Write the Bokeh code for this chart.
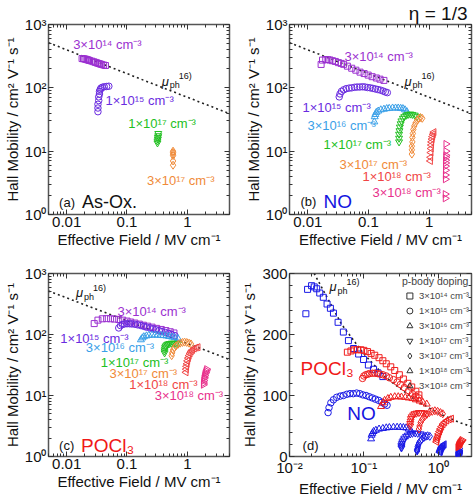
from math import pi
from bokeh.plotting import figure
from bokeh.layouts import column, row
from bokeh.models import (FixedTicker, Label, LogAxis, LinearAxis, Legend, LegendItem,
                          Range1d, CustomJSTickFormatter, Title)
from bokeh.embed import file_html
from bokeh.resources import INLINE

FONT = "Liberation Sans"

# ---------------- data ----------------
doping_labels = ["3×10¹⁴ cm⁻³", "1×10¹⁵ cm⁻³", "3×10¹⁶ cm⁻³", "1×10¹⁷ cm⁻³",
                 "3×10¹⁷ cm⁻³", "1×10¹⁸ cm⁻³", "3×10¹⁸ cm⁻³"]
doping_colors = ["#9B30D0", "#6A2BE0", "#3AA0E8", "#22C022", "#F08A38", "#F04545", "#E8308C"]

# phonon-limited mobility reference curve
mu_ph_E = [0.005, 0.01, 0.02, 0.05, 0.1, 0.2, 0.5, 1, 2, 5]
mu_ph_mu = [516, 398, 307, 217, 168, 129, 92, 71, 55, 39]

# (a) As-Ox.
asox_3e14_E = [0.018, 0.019, 0.020, 0.021, 0.022, 0.023, 0.024, 0.026, 0.028, 0.030, 0.032, 0.034, 0.036, 0.038, 0.041, 0.044]
asox_3e14_mu = [290, 288, 285, 282, 278, 274, 270, 264, 258, 252, 247, 242, 238, 234, 229, 225]
asox_1e15_E = [0.033, 0.033, 0.033, 0.034, 0.034, 0.035, 0.035, 0.036, 0.037, 0.039, 0.042, 0.046, 0.050]
asox_1e15_mu = [42, 48, 55, 63, 72, 80, 88, 94, 99, 102, 104, 105, 106]
asox_1e17_E = [0.32, 0.32, 0.325, 0.325, 0.33, 0.33]
asox_1e17_mu = [13.5, 14.5, 15.5, 16.5, 17.5, 19]
asox_3e17_E = [0.58, 0.58, 0.58, 0.58, 0.58, 0.58]
asox_3e17_mu = [6, 7, 8.5, 9, 9.5, 10]

# (b) NO
no_3e14_E = [0.0166, 0.0175, 0.0198, 0.0215, 0.0232, 0.0255, 0.0285, 0.032, 0.0355, 0.039, 0.045, 0.053, 0.062, 0.0727, 0.085, 0.099, 0.115, 0.135, 0.155, 0.18]
no_3e14_mu = [234, 274, 280, 278, 275, 268, 261, 250, 243, 235, 220, 204, 190, 177, 168, 159, 150, 143, 137, 131]
no_1e15_E = [0.033, 0.034, 0.036, 0.039, 0.043, 0.048, 0.053, 0.059, 0.065, 0.072, 0.080, 0.088, 0.097, 0.107, 0.118, 0.130, 0.143, 0.158, 0.174, 0.19, 0.205]
no_1e15_mu = [72, 80, 88, 93, 97, 99, 100, 102, 103, 103, 104, 103, 101, 100, 98, 96, 94, 92, 89, 86, 84]
no_3e16_E = [0.125, 0.127, 0.130, 0.135, 0.145, 0.16, 0.18, 0.2, 0.22, 0.25, 0.28, 0.31, 0.34, 0.37, 0.40, 0.43]
no_3e16_mu = [29, 35, 38, 41, 43, 45, 46, 47, 47.5, 48, 48, 48, 47.5, 47, 45, 42]
no_1e17_E = [0.32, 0.32, 0.32, 0.325, 0.33, 0.34, 0.35, 0.37, 0.39, 0.42, 0.45, 0.49, 0.53, 0.58, 0.63]
no_1e17_mu = [14, 16, 18.5, 21, 24, 27, 30, 33, 35, 37, 38, 38.5, 38, 37, 35]
no_3e17_E = [0.52, 0.52, 0.52, 0.53, 0.53, 0.54, 0.55, 0.57, 0.60, 0.64, 0.68, 0.72, 0.77]
no_3e17_mu = [9, 10.5, 12, 14, 16.5, 19, 22, 25, 28, 31, 33, 34, 33]
no_1e18_E = [1.05, 1.06, 1.07, 1.08, 1.09, 1.1, 1.12, 1.14, 1.17, 1.2]
no_1e18_mu = [7, 8, 9.5, 11, 12.5, 14, 15.5, 17, 18.5, 20]
no_3e18_E = [1.85, 1.85, 1.86, 1.86, 1.87, 1.87, 1.88, 1.88, 1.89, 1.9, 1.9, 1.9]
no_3e18_mu = [1.8, 2.1, 3.6, 4.2, 5, 5.8, 6.5, 7.2, 8, 8.6, 10, 13]

# (c) POCl3
pocl_3e14_E = [0.0286, 0.033, 0.039, 0.046, 0.0535, 0.062, 0.073, 0.085, 0.1, 0.115, 0.135, 0.16, 0.187, 0.22, 0.26, 0.31, 0.37, 0.44, 0.52, 0.6]
pocl_3e14_mu = [151, 172, 181, 182, 181, 179, 176, 172, 166, 160, 154, 148, 142, 137, 132, 126, 121, 116, 111, 106]
pocl_1e15_E = [0.073, 0.078, 0.084, 0.091, 0.1, 0.11, 0.12, 0.135, 0.15, 0.17, 0.19, 0.21, 0.24, 0.27, 0.3, 0.34, 0.38, 0.43, 0.49, 0.55, 0.62]
pocl_1e15_mu = [128, 140, 146, 149, 150, 150, 149, 147, 144, 140, 136, 132, 128, 124, 120, 116, 112, 108, 104, 100, 96]
pocl_3e16_E = [0.17, 0.18, 0.19, 0.21, 0.23, 0.26, 0.29, 0.32, 0.36, 0.4, 0.45, 0.5, 0.56, 0.62, 0.7]
pocl_3e16_mu = [82, 88, 92, 95, 97, 98, 98, 97.5, 97, 96, 95, 93, 91, 89, 86]
pocl_1e17_E = [0.42, 0.42, 0.425, 0.43, 0.44, 0.46, 0.48, 0.51, 0.55, 0.6, 0.65, 0.7]
pocl_1e17_mu = [50, 54, 58, 62, 65, 68, 70, 71, 72, 72, 71, 70]
pocl_3e17_E = [0.55, 0.56, 0.58, 0.61, 0.65, 0.7, 0.76, 0.83, 0.9, 0.98, 1.07, 1.15]
pocl_3e17_mu = [45, 50, 56, 61, 65, 69, 72, 74, 75, 74, 72, 70]
pocl_1e18_E = [0.95, 0.96, 0.97, 0.99, 1.01, 1.04, 1.07, 1.11, 1.16, 1.22, 1.3, 1.4, 1.5]
pocl_1e18_mu = [24, 27, 30, 33, 37, 41, 45, 49, 53, 56, 59, 61, 62]
pocl_3e18_E = [1.85, 1.86, 1.88, 1.9, 1.92, 1.95, 1.98, 2.02, 2.06, 2.1]
pocl_3e18_mu = [15, 16, 17.5, 19, 20, 21.5, 23, 24, 25.5, 27]

# (d) POCl3 low-doping series as drawn in the linear panel
d_pocl_3e14_E = [0.06, 0.067, 0.074, 0.082, 0.091, 0.1, 0.112, 0.125, 0.14, 0.16, 0.18, 0.2, 0.23, 0.26, 0.3, 0.34, 0.39, 0.44, 0.5, 0.55]
d_pocl_3e14_mu = [171, 173, 175, 175, 175, 174, 172, 169, 166, 162, 157, 152, 147, 141, 134, 127, 120, 114, 107, 101]
d_pocl_1e15_E = [0.096, 0.1, 0.106, 0.113, 0.12, 0.13, 0.14, 0.152, 0.165, 0.18, 0.2, 0.22, 0.25, 0.28, 0.31, 0.35, 0.4, 0.45, 0.5, 0.55]
d_pocl_1e15_mu = [128, 132, 134, 135, 136, 136.5, 136.5, 136, 135, 134, 132, 129, 126, 122, 118, 113, 108, 103, 99, 96]

asox = [(asox_3e14_E, asox_3e14_mu, 0), (asox_1e15_E, asox_1e15_mu, 1),
        (asox_1e17_E, asox_1e17_mu, 3), (asox_3e17_E, asox_3e17_mu, 4)]
no = [(no_3e14_E, no_3e14_mu, 0), (no_1e15_E, no_1e15_mu, 1), (no_3e16_E, no_3e16_mu, 2),
      (no_1e17_E, no_1e17_mu, 3), (no_3e17_E, no_3e17_mu, 4), (no_1e18_E, no_1e18_mu, 5),
      (no_3e18_E, no_3e18_mu, 6)]
pocl = [(pocl_3e14_E, pocl_3e14_mu, 0), (pocl_1e15_E, pocl_1e15_mu, 1), (pocl_3e16_E, pocl_3e16_mu, 2),
        (pocl_1e17_E, pocl_1e17_mu, 3), (pocl_3e17_E, pocl_3e17_mu, 4), (pocl_1e18_E, pocl_1e18_mu, 5),
        (pocl_3e18_E, pocl_3e18_mu, 6)]
pocl_d = [(d_pocl_3e14_E, d_pocl_3e14_mu, 0), (d_pocl_1e15_E, d_pocl_1e15_mu, 1)] + pocl[2:]

MARKERS = [("square", 0), ("circle", 0), ("triangle", 0), ("inverted_triangle", 0),
           ("diamond", 0), ("triangle", pi / 2), ("triangle", -pi / 2)]
SIZES = [6, 6.5, 7, 7, 8, 7, 7]

X_LABEL = "Effective Field / MV cm⁻¹"
Y_LABEL = "Hall Mobility / cm² V⁻¹ s⁻¹"


def minor_log(lo_e, hi_e, lo, hi):
    out = []
    for e in range(lo_e, hi_e + 1):
        for m in range(2, 10):
            v = m * 10.0 ** e
            if lo <= v <= hi:
                out.append(v)
    return out


def style_axis(ax, label=None, show=True):
    ax.axis_line_color = None
    ax.major_tick_in = 5
    ax.major_tick_out = 0
    ax.minor_tick_in = 3
    ax.minor_tick_out = 0
    ax.major_tick_line_color = "#333333"
    ax.minor_tick_line_color = "#333333"
    ax.major_label_text_font = FONT
    ax.major_label_text_color = "#111111"
    if show:
        ax.major_label_text_font_size = "15px"
        ax.major_label_standoff = 2
    else:
        ax.formatter = CustomJSTickFormatter(code="return ''")
        ax.major_label_standoff = 0
        ax.axis_label_standoff = 0
    if label:
        ax.axis_label = label
        ax.axis_label_text_font = FONT
        ax.axis_label_text_font_size = "15px"
        ax.axis_label_text_font_style = "normal"
        ax.axis_label_text_color = "#111111"
        ax.axis_label_standoff = 1


def make_fig(w, h, bl, br, bt, bb, linear_y=False, xr=(0.005, 5)):
    p = figure(width=w, height=h, x_axis_type="log",
               y_axis_type="linear" if linear_y else "log",
               x_range=xr, y_range=(0, 300) if linear_y else (1, 1000),
               output_backend="svg", toolbar_location=None,
               min_border_left=bl, min_border_right=br, min_border_top=bt, min_border_bottom=bb)
    p.grid.visible = False
    p.outline_line_color = "#555555"
    p.outline_line_width = 1.5
    p.background_fill_color = "white"
    p.border_fill_color = "white"
    xt = FixedTicker(ticks=[0.01, 0.1, 1], minor_ticks=minor_log(-3, 0, xr[0], xr[1]))
    if linear_y:
        yt = FixedTicker(ticks=[0, 100, 200, 300], minor_ticks=list(range(0, 301, 20)))
        xlab = {0.01: "10⁻²", 0.1: "10⁻¹", 1: "10⁰"}
        ylab = {}
    else:
        yt = FixedTicker(ticks=[1, 10, 100, 1000], minor_ticks=minor_log(0, 2, 1, 1000))
        xlab = {0.01: "0.01", 0.1: "0.1", 1: "1"}
        ylab = {1: "10⁰", 10: "10¹", 100: "10²", 1000: "10³"}
    p.xaxis.ticker = xt
    p.yaxis.ticker = yt
    p.xaxis.major_label_overrides = xlab
    if ylab:
        p.yaxis.major_label_overrides = ylab
    style_axis(p.xaxis[0], X_LABEL)
    style_axis(p.yaxis[0], Y_LABEL)
    top = LogAxis(ticker=xt)
    style_axis(top, show=False)
    p.add_layout(top, "above")
    right = LinearAxis(ticker=yt) if linear_y else LogAxis(ticker=yt)
    style_axis(right, show=False)
    p.add_layout(right, "right")
    # mu_ph reference curve
    p.line(mu_ph_E, mu_ph_mu, line_color="#222222", line_width=1.6, line_dash="2 3")
    return p


def plot_series(p, series, color=None):
    for E, mu, k in series:
        marker, ang = MARKERS[k]
        p.scatter(E, mu, marker=marker, angle=ang, size=SIZES[k],
                  line_color=color or doping_colors[k], fill_color=None, line_width=1)


def text(p, x, y, t, color="#111111", size="13px", style="normal", align="left",
         xo=0, yo=0, baseline="middle"):
    p.add_layout(Label(x=x, y=y, text=t, text_color=color, text_font=FONT,
                       text_font_size=size, text_font_style=style, text_align=align,
                       text_baseline=baseline, x_offset=xo, y_offset=yo))


def mu_ph_label(p, x, y):
    text(p, x, y, "μ", size="13px", style="italic")
    text(p, x, y, "ph", size="9px", xo=8, yo=-4)
    text(p, x, y, "16)", size="9px", xo=17, yo=5)


# ---------------- panel (a) ----------------
pa = make_fig(234, 250, 45, 5, 24, 36)
plot_series(pa, asox)
text(pa, 0.0128, 485, doping_labels[0], doping_colors[0])
text(pa, 0.044, 62, doping_labels[1], doping_colors[1])
text(pa, 0.105, 27, doping_labels[3], doping_colors[3])
text(pa, 0.214, 3.43, doping_labels[4], doping_colors[4])
mu_ph_label(pa, 0.376, 127)
text(pa, 0.0075, 1.55, "(a)", size="13px")
text(pa, 0.0179, 1.55, "As-Ox.", size="18px")

# ---------------- panel (b) ----------------
pb = make_fig(240, 250, 55, 3, 24, 36)
pb.add_layout(Title(text="η = 1/3", align="right", text_font=FONT, text_font_size="19px",
                    text_font_style="normal", text_color="#111111", standoff=1, offset=4), "above")
plot_series(pb, no)
b_lab = [(0.0403, 316), (0.00818, 48.7), (0.0099, 25.5), (0.0182, 12.9),
         (0.0333, 6.27), (0.0798, 3.93), (0.1164, 2.21)]
for k, (x, y) in enumerate(b_lab):
    text(pb, x, y, doping_labels[k], doping_colors[k])
mu_ph_label(pb, 0.393, 128)
text(pb, 0.0076, 1.6, "(b)", size="13px")
text(pb, 0.0182, 1.6, "NO", color="#1414E0", size="19px")

# ---------------- panel (c) ----------------
pc = make_fig(234, 249, 45, 5, 23, 36)
plot_series(pc, pocl)
c_lab = [(0.0694, 242), (0.00785, 87.6), (0.0208, 60.8), (0.0367, 35.2),
         (0.0513, 22.7), (0.109, 15.2), (0.289, 9.86)]
for k, (x, y) in enumerate(c_lab):
    text(pc, x, y, doping_labels[k], doping_colors[k])
mu_ph_label(pc, 0.0143, 483)
text(pc, 0.0075, 1.49, "(c)", size="13px")
text(pc, 0.0173, 1.49, "POCl₃", color="#F01818", size="19px")

# ---------------- panel (d) ----------------
pd_ = make_fig(240, 249, 55, 3, 23, 36, linear_y=True, xr=(0.01, 2.8))
plot_series(pd_, no, color="#1A1AE6")
plot_series(pd_, pocl_d, color="#F01E1E")
mu_ph_label(pd_, 0.0345, 278)
text(pd_, 0.0141, 144, "POCl₃", color="#F01818", size="19px")
text(pd_, 0.060, 71, "NO", color="#1414E0", size="19px")
text(pd_, 0.015, 18, "(d)", size="13px")

# legend keys: black copies of the NO series on an off-screen range (only their key is seen)
pd_.extra_y_ranges = {"hide": Range1d(1000, 2000)}
items = []
for E, mu, k in no:
    marker, ang = MARKERS[k]
    r = pd_.scatter(E, mu, marker=marker, angle=ang, size=6, y_range_name="hide",
                    line_color="#333333", fill_color=None, line_width=1)
    items.append(LegendItem(label=doping_labels[k], renderers=[r]))
leg = Legend(items=items, location="top_right", title="p-body doping",
             title_text_font=FONT, title_text_font_size="10.5px", title_text_font_style="normal",
             label_text_font=FONT, label_text_font_size="9.5px",
             border_line_color=None, background_fill_alpha=0,
             glyph_height=15, glyph_width=15, label_height=10, spacing=-5,
             padding=1, margin=2, label_standoff=2, title_standoff=1)
pd_.add_layout(leg)

layout = column(row(pa, pb), row(pc, pd_))
open("out.html", "w").write(file_html(layout, INLINE))
